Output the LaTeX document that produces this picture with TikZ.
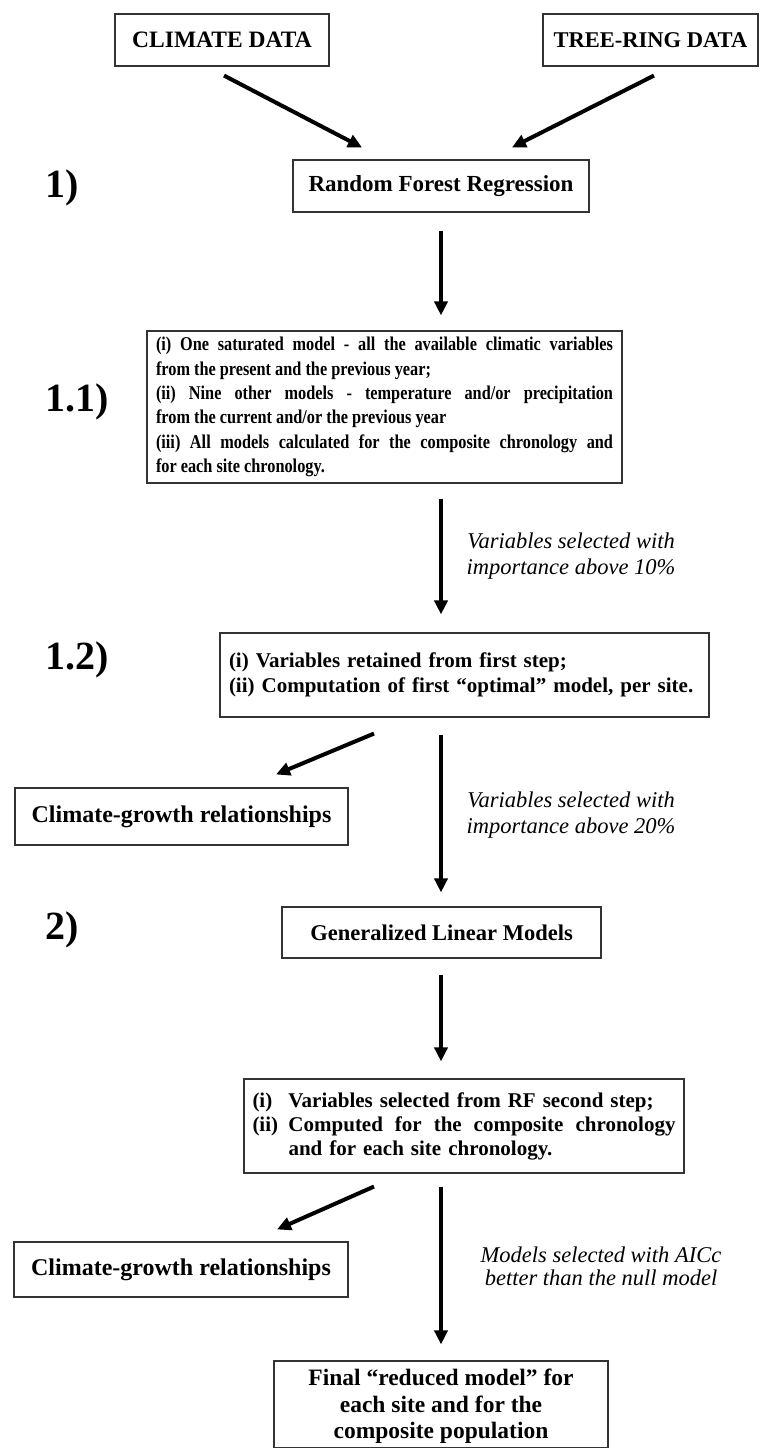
\documentclass[tikz,border=0pt]{standalone}
\usepackage{fontspec}
\setmainfont{Liberation Serif}
\newfontfamily\condserif{Liberation Serif}[FakeStretch=0.835]
\usetikzlibrary{arrows.meta,calc}
\newcommand{\myjl}[2]{\leavevmode\hbox to #1{\spaceskip=0pt\xspaceskip=0pt #2}}
\newcommand{\myll}[2]{\leavevmode\hbox to #1{\spaceskip=0pt\xspaceskip=0pt #2\hfil}}
\begin{document}
\begin{tikzpicture}[x=1pt,y=-1pt,
  box/.style={draw=black!80, line width=1.1pt, inner sep=0pt, align=center},
  arr/.style={line width=4pt, -{Triangle[width=13pt,length=14pt]}},
  steplbl/.style={anchor=west, inner sep=0pt, font=\fontsize{40}{44}\selectfont\bfseries},
  note/.style={align=center, inner sep=0pt, font=\fontsize{22.5}{26}\selectfont\itshape}]
\useasboundingbox (0,0) rectangle (763,1448);

% top boxes
\node[box, minimum width=214pt, minimum height=52pt, font=\fontsize{23.5}{27}\selectfont\bfseries] (clim) at (222,40) {CLIMATE DATA};
\node[box, minimum width=215pt, minimum height=52pt, font=\fontsize{22.5}{26}\selectfont\bfseries] (tree) at (650.5,40) {TREE-RING DATA};

% step labels
\node[steplbl] (s1) at (45,188) {1)};
\node[steplbl] (s11) at (45,402) {1.1)};
\node[steplbl] (s12) at (45,660) {1.2)};
\node[steplbl] (s2) at (45,930) {2)};

% RF
\node[box, minimum width=296pt, minimum height=52pt, font=\fontsize{23}{26}\selectfont\bfseries] (rf) at (441,186) {Random Forest Regression};

% box 1.1
\node[box, minimum width=475pt, minimum height=152pt, text width=457pt, align=left,
      font=\condserif\fontsize{19.5}{24.3}\selectfont\bfseries] (b11) at (384.5,407) {%
\myjl{457pt}{(i) One saturated model - all the available climatic variables}\\
\myll{457pt}{from the present and the previous year;}\\
\myjl{457pt}{(ii) Nine other models - temperature and/or precipitation}\\
\myll{457pt}{from the current and/or the previous year}\\
\myjl{457pt}{(iii) All models calculated for the composite chronology and}\\
\myll{457pt}{for each site chronology.}};

% box 1.2
\node[box, minimum width=489pt, minimum height=84pt, text width=471pt, align=left,
      font=\fontsize{21}{25}\selectfont\bfseries] (b12) at (464.5,675) {%
(i) Variables retained from first step;\\
(ii) Computation of first “optimal” model, per site.};

% climate-growth 1
\node[box, minimum width=333pt, minimum height=57pt, font=\fontsize{24}{27}\selectfont\bfseries] (cg1) at (181.5,816.5) {Climate-growth relationships};

% GLM
\node[box, minimum width=319pt, minimum height=51pt, font=\fontsize{22.5}{26}\selectfont\bfseries] (glm) at (441.5,932.5) {Generalized Linear Models};

% box 2
\node[box, minimum width=440pt, minimum height=94pt, text width=423pt, align=left,
      font=\fontsize{21}{24}\selectfont\bfseries] (b2) at (464,1126) {%
\makebox[36pt][l]{(i)}Variables selected from RF second step;\\
\makebox[36pt][l]{(ii)}\myjl{387pt}{Computed for the composite chronology}\\
\hspace*{36pt}and for each site chronology.};

% climate-growth 2
\node[box, minimum width=334pt, minimum height=55pt, font=\fontsize{24}{27}\selectfont\bfseries] (cg2) at (181,1269.5) {Climate-growth relationships};

% final
\node[box, minimum width=334pt, minimum height=87pt, font=\fontsize{23.5}{26.5}\selectfont\bfseries] (final) at (441,1404.5) {\rule{0pt}{20pt}Final “reduced model” for\\each site and for the\\composite population};

% notes
\node[note] (n1) at (571,556) {Variables selected with\\importance above 10\%};
\node[note] (n2) at (571,815.5) {Variables selected with\\importance above 20\%};
\node[note, font=\fontsize{22.5}{23.5}\selectfont\itshape] (n3) at (601,1266.5) {Models selected with AICc\\better than the null model};

% arrows
\draw[arr] ($(clim.south)+(2,9)$) -- ($(rf.north)+(-79,-12)$);
\draw[arr] ($(tree.south)+(3.5,9)$) -- ($(rf.north)+(71,-12)$);
\draw[arr] ($(rf.south)+(0,18)$) -- ($(b11.north)+(56.5,-15)$);
\draw[arr] ($(b11.south)+(56.5,15)$) -- ($(b12.north)+(-23.5,-18)$);
\draw[arr] ($(b12.south)+(-90.5,16)$) -- ($(cg1.north)+(94.5,-13)$);
\draw[arr] ($(b12.south)+(-23.5,17)$) -- ($(glm.north)+(-0.5,-14)$);
\draw[arr] ($(glm.south)+(-0.5,16)$) -- ($(b2.north)+(-23,-17)$);
\draw[arr] ($(b2.south)+(-90,13)$) -- ($(cg2.north)+(96,-12)$);
\draw[arr] ($(b2.south)+(-23,13)$) -- ($(final.north)+(0,-16)$);
\end{tikzpicture}
\end{document}
